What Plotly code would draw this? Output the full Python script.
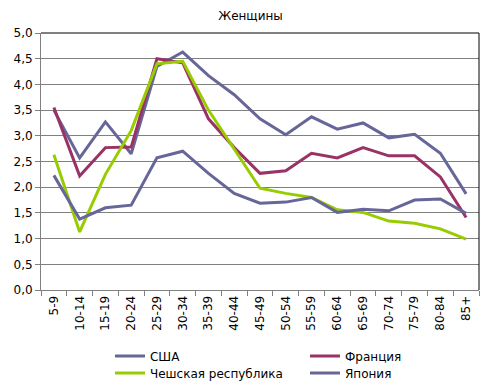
import plotly.graph_objects as go

categories = ["5-9", "10-14", "15-19", "20-24", "25-29", "30-34", "35-39", "40-44",
              "45-49", "50-54", "55-59", "60-64", "65-69", "70-74", "75-79", "80-84", "85+"]
usa = [3.50, 2.57, 3.27, 2.65, 4.35, 4.63, 4.17, 3.80, 3.33, 3.02, 3.37, 3.13, 3.25, 2.96, 3.03, 2.66, 1.87]
france = [3.55, 2.22, 2.77, 2.78, 4.50, 4.42, 3.33, 2.77, 2.27, 2.32, 2.66, 2.57, 2.77, 2.61, 2.61, 2.20, 1.41]
czech = [2.63, 1.13, 2.25, 3.10, 4.40, 4.45, 3.50, 2.75, 1.98, 1.88, 1.80, 1.56, 1.51, 1.34, 1.30, 1.19, 0.99]
japan = [2.23, 1.38, 1.60, 1.65, 2.57, 2.70, 2.27, 1.88, 1.69, 1.71, 1.80, 1.51, 1.57, 1.54, 1.75, 1.77, 1.49]

series = [
    ("США", usa, "#666699", "legend"),
    ("Франция", france, "#993366", "legend"),
    ("Чешская республика", czech, "#99CC00", "legend2"),
    ("Япония", japan, "#666699", "legend2"),
]

fig = go.Figure()
for name, vals, color, lg in series:
    fig.add_trace(go.Scatter(x=categories, y=vals, name=name, mode="lines",
                             line=dict(color=color, width=3), legend=lg))

# page has an 8px body margin; figure is sized/offset to compensate
W, H = 485, 377
font = dict(family="DejaVu Sans", size=12, color="black")
legend_common = dict(orientation="h", x=0.1575, xanchor="left", xref="paper",
                     yanchor="middle", yref="container",
                     entrywidth=150, entrywidthmode="pixels", font=font,
                     itemwidth=30, bgcolor="rgba(0,0,0,0)")
fig.update_layout(
    width=W, height=H,
    margin=dict(l=33, r=14, t=25, b=95, autoexpand=False),
    paper_bgcolor="white", plot_bgcolor="white",
    separators=", ",
    font=font,
    title=dict(text="Женщины", x=0.5, xanchor="center", y=1 - 8 / H, yanchor="middle",
               font=font),
    showlegend=True,
    legend=dict(y=1 - 348 / H, **legend_common),
    legend2=dict(y=1 - 365 / H, **legend_common),
    xaxis=dict(type="category", showline=True, linecolor="#808080", linewidth=1,
               ticks="outside", tickson="boundaries", ticklen=5, tickcolor="#808080",
               tickangle=-90, showgrid=False, tickfont=font, range=[-0.5, 16.5],
               automargin=False),
    yaxis=dict(range=[0, 5], dtick=0.5, tickformat=".1f", showline=True,
               linecolor="#808080", linewidth=1, ticks="outside", ticklen=5,
               tickcolor="#808080", showgrid=True, gridcolor="#808080", gridwidth=1,
               zeroline=False, tickfont=font, automargin=False),
)
fig.add_shape(type="line", xref="paper", yref="paper", x0=0, x1=1, y0=1, y1=1,
              line=dict(color="black", width=1))
fig.add_shape(type="line", xref="paper", yref="paper", x0=1, x1=1, y0=0, y1=1,
              line=dict(color="black", width=1))
fig.write_html("out.html")
